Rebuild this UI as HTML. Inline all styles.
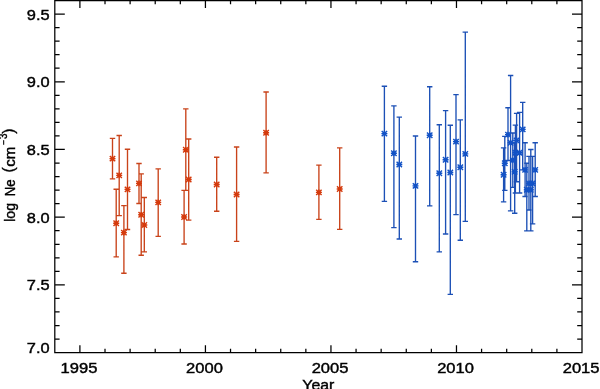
<!DOCTYPE html>
<html><head><meta charset="utf-8"><title>log Ne vs Year</title>
<style>html,body{margin:0;padding:0;background:#fff;overflow:hidden}svg{display:block}text{font-family:"Liberation Sans",sans-serif;font-size:14px;fill:#000;stroke:#000;stroke-width:0.4px}</style></head><body>
<svg width="600" height="389" viewBox="0 0 600 389">
<rect width="600" height="389" fill="#fff"/>
<g fill="none" stroke="#d53a0c"><path stroke="#c9431a" stroke-width="1.35" d="M112.5 138.4V178.8M109.8 138.4H115.2M109.8 178.8H115.2M116.2 189.2V256.8M113.5 189.2H118.9M113.5 256.8H118.9M119.2 135.5V215.6M116.5 135.5H121.9M116.5 215.6H121.9M123.9 205.6V273.2M121.2 205.6H126.6M121.2 273.2H126.6M127.5 149.2V229.5M124.8 149.2H130.2M124.8 229.5H130.2M139 163.5V203.5M136.3 163.5H141.7M136.3 203.5H141.7M141.2 173.8V255.2M138.5 173.8H143.9M138.5 255.2H143.9M144.3 197.5V251.8M141.6 197.5H147M141.6 251.8H147M158.2 168.8V236.3M155.5 168.8H160.9M155.5 236.3H160.9M184.1 190.4V244M181.4 190.4H186.8M181.4 244H186.8M185.8 108.9V190.4M183.1 108.9H188.5M183.1 190.4H188.5M188.7 139V220.1M186 139H191.4M186 220.1H191.4M216.7 157.2V211.2M214 157.2H219.4M214 211.2H219.4M236.6 147V241.3M233.9 147H239.3M233.9 241.3H239.3M266.1 92V172.9M263.4 92H268.8M263.4 172.9H268.8M318.9 165.1V219.3M316.2 165.1H321.6M316.2 219.3H321.6M339.7 147.9V229.3M337 147.9H342.4M337 229.3H342.4"/><path stroke-width="1.4" d="M109.5 158.6H115.5M112.5 155.8V161.4M109.8 155.9L115.2 161.3M109.8 161.3L115.2 155.9M113.2 223.3H119.2M116.2 220.5V226.1M113.5 220.6L118.9 226M113.5 226L118.9 220.6M116.2 175.4H122.2M119.2 172.6V178.2M116.5 172.7L121.9 178.1M116.5 178.1L121.9 172.7M120.9 232.6H126.9M123.9 229.8V235.4M121.2 229.9L126.6 235.3M121.2 235.3L126.6 229.9M124.5 189.4H130.5M127.5 186.6V192.2M124.8 186.7L130.2 192.1M124.8 192.1L130.2 186.7M136 183.4H142M139 180.6V186.2M136.3 180.7L141.7 186.1M136.3 186.1L141.7 180.7M138.2 214.8H144.2M141.2 212V217.6M138.5 212.1L143.9 217.5M138.5 217.5L143.9 212.1M141.3 225H147.3M144.3 222.2V227.8M141.6 222.3L147 227.7M141.6 227.7L147 222.3M155.2 202.4H161.2M158.2 199.6V205.2M155.5 199.7L160.9 205.1M155.5 205.1L160.9 199.7M181.1 217H187.1M184.1 214.2V219.8M181.4 214.3L186.8 219.7M181.4 219.7L186.8 214.3M182.8 149.8H188.8M185.8 147V152.6M183.1 147.1L188.5 152.5M183.1 152.5L188.5 147.1M185.7 179.5H191.7M188.7 176.7V182.3M186 176.8L191.4 182.2M186 182.2L191.4 176.8M213.7 184.5H219.7M216.7 181.7V187.3M214 181.8L219.4 187.2M214 187.2L219.4 181.8M233.6 194.5H239.6M236.6 191.7V197.3M233.9 191.8L239.3 197.2M233.9 197.2L239.3 191.8M263.1 132.7H269.1M266.1 129.9V135.5M263.4 130L268.8 135.4M263.4 135.4L268.8 130M315.9 192.4H321.9M318.9 189.6V195.2M316.2 189.7L321.6 195.1M316.2 195.1L321.6 189.7M336.7 189H342.7M339.7 186.2V191.8M337 186.3L342.4 191.7M337 191.7L342.4 186.3"/></g>
<g fill="none" stroke="#1252c6"><path stroke="#1c50b6" stroke-width="1.35" d="M384.4 86.2V201.3M381.7 86.2H387.1M381.7 201.3H387.1M393.9 105.9V227.6M391.2 105.9H396.6M391.2 227.6H396.6M399.3 117.1V239M396.6 117.1H402M396.6 239H402M415.5 136V261.7M412.8 136H418.2M412.8 261.7H418.2M429.7 86.7V205.9M427 86.7H432.4M427 205.9H432.4M439.3 124.7V251.9M436.6 124.7H442M436.6 251.9H442M445.6 110.6V234M442.9 110.6H448.3M442.9 234H448.3M450.3 125.2V294.3M447.6 125.2H453M447.6 294.3H453M456 94.6V214.6M453.3 94.6H458.7M453.3 214.6H458.7M460.3 119.8V240.2M457.6 119.8H463M457.6 240.2H463M465.3 32.1V221.3M462.6 32.1H468M462.6 221.3H468M503.6 147.8V201.8M500.9 147.8H506.3M500.9 201.8H506.3M504.8 136.3V190.3M502.1 136.3H507.5M502.1 190.3H507.5M508 107.7V160.5M505.3 107.7H510.7M505.3 160.5H510.7M510.6 75.5V210.8M507.9 75.5H513.3M507.9 210.8H513.3M512.8 133V187.3M510.1 133H515.5M510.1 187.3H515.5M514.7 143V213.2M512 143H517.4M512 213.2H517.4M515.4 125.1V193M512.7 125.1H518.1M512.7 193H518.1M516.6 113.4V181.7M513.9 113.4H519.3M513.9 181.7H519.3M519.6 112.3V193M516.9 112.3H522.3M516.9 193H522.3M522.7 102.4V169.9M520 102.4H525.4M520 169.9H525.4M525.1 142.7V196.5M522.4 142.7H527.8M522.4 196.5H527.8M526.8 163.2V230.9M524.1 163.2H529.5M524.1 230.9H529.5M529 156.4V210M526.3 156.4H531.7M526.3 210H531.7M530.8 149.5V230.9M528.1 149.5H533.5M528.1 230.9H533.5M532.6 156.4V223.9M529.9 156.4H535.3M529.9 223.9H535.3M535.2 142.7V196.5M532.5 142.7H537.9M532.5 196.5H537.9"/><path stroke-width="1.4" d="M381.4 133.6H387.4M384.4 130.8V136.4M381.7 130.9L387.1 136.3M381.7 136.3L387.1 130.9M390.9 153.3H396.9M393.9 150.5V156.1M391.2 150.6L396.6 156M391.2 156L396.6 150.6M396.3 164.5H402.3M399.3 161.7V167.3M396.6 161.8L402 167.2M396.6 167.2L402 161.8M412.5 185.9H418.5M415.5 183.1V188.7M412.8 183.2L418.2 188.6M412.8 188.6L418.2 183.2M426.7 135.2H432.7M429.7 132.4V138M427 132.5L432.4 137.9M427 137.9L432.4 132.5M436.3 173.3H442.3M439.3 170.5V176.1M436.6 170.6L442 176M436.6 176L442 170.6M442.6 159.8H448.6M445.6 157V162.6M442.9 157.1L448.3 162.5M442.9 162.5L448.3 157.1M447.3 172.5H453.3M450.3 169.7V175.3M447.6 169.8L453 175.2M447.6 175.2L453 169.8M453 141.6H459M456 138.8V144.4M453.3 138.9L458.7 144.3M453.3 144.3L458.7 138.9M457.3 167.3H463.3M460.3 164.5V170.1M457.6 164.6L463 170M457.6 170L463 164.6M462.3 153.9H468.3M465.3 151.1V156.7M462.6 151.2L468 156.6M462.6 156.6L468 151.2M500.6 174.8H506.6M503.6 172V177.6M500.9 172.1L506.3 177.5M500.9 177.5L506.3 172.1M501.8 163.2H507.8M504.8 160.4V166M502.1 160.5L507.5 165.9M502.1 165.9L507.5 160.5M505 134.6H511M508 131.8V137.4M505.3 131.9L510.7 137.3M505.3 137.3L510.7 131.9M507.6 142.8H513.6M510.6 140V145.6M507.9 140.1L513.3 145.5M507.9 145.5L513.3 140.1M509.8 160.2H515.8M512.8 157.4V163M510.1 157.5L515.5 162.9M510.1 162.9L515.5 157.5M511.7 171.7H517.7M514.7 168.9V174.5M512 169L517.4 174.4M512 174.4L517.4 169M512.4 152.7H518.4M515.4 149.9V155.5M512.7 150L518.1 155.4M512.7 155.4L518.1 150M513.6 140.4H519.6M516.6 137.6V143.2M513.9 137.7L519.3 143.1M513.9 143.1L519.3 137.7M516.6 152.8H522.6M519.6 150V155.6M516.9 150.1L522.3 155.5M516.9 155.5L522.3 150.1M519.7 129.4H525.7M522.7 126.6V132.2M520 126.7L525.4 132.1M520 132.1L525.4 126.7M522.1 169.9H528.1M525.1 167.1V172.7M522.4 167.2L527.8 172.6M522.4 172.6L527.8 167.2M523.8 189.8H529.8M526.8 187V192.6M524.1 187.1L529.5 192.5M524.1 192.5L529.5 187.1M526 183.4H532M529 180.6V186.2M526.3 180.7L531.7 186.1M526.3 186.1L531.7 180.7M527.8 189.8H533.8M530.8 187V192.6M528.1 187.1L533.5 192.5M528.1 192.5L533.5 187.1M529.6 183.4H535.6M532.6 180.6V186.2M529.9 180.7L535.3 186.1M529.9 186.1L535.3 180.7M532.2 169.9H538.2M535.2 167.1V172.7M532.5 167.2L537.9 172.6M532.5 172.6L537.9 167.2"/></g>
<path fill="none" stroke="#000" stroke-width="1.25" stroke-linecap="butt" stroke-linejoin="miter" d="M54.8 0.5H582.0V352.6H54.8ZM79.9 352.6v-7.4M79.9 0.5v7.4M105.01 352.6v-3.8M105.01 0.5v3.8M130.11 352.6v-3.8M130.11 0.5v3.8M155.22 352.6v-3.8M155.22 0.5v3.8M180.32 352.6v-3.8M180.32 0.5v3.8M205.43 352.6v-7.4M205.43 0.5v7.4M230.53 352.6v-3.8M230.53 0.5v3.8M255.64 352.6v-3.8M255.64 0.5v3.8M280.74 352.6v-3.8M280.74 0.5v3.8M305.85 352.6v-3.8M305.85 0.5v3.8M330.95 352.6v-7.4M330.95 0.5v7.4M356.06 352.6v-3.8M356.06 0.5v3.8M381.16 352.6v-3.8M381.16 0.5v3.8M406.27 352.6v-3.8M406.27 0.5v3.8M431.37 352.6v-3.8M431.37 0.5v3.8M456.48 352.6v-7.4M456.48 0.5v7.4M481.58 352.6v-3.8M481.58 0.5v3.8M506.69 352.6v-3.8M506.69 0.5v3.8M531.79 352.6v-3.8M531.79 0.5v3.8M556.9 352.6v-3.8M556.9 0.5v3.8M54.8 339.06h4.8M582.0 339.06h-4.8M54.8 325.52h4.8M582.0 325.52h-4.8M54.8 311.97h4.8M582.0 311.97h-4.8M54.8 298.43h4.8M582.0 298.43h-4.8M54.8 284.89h10.0M582.0 284.89h-10.0M54.8 271.35h4.8M582.0 271.35h-4.8M54.8 257.8h4.8M582.0 257.8h-4.8M54.8 244.26h4.8M582.0 244.26h-4.8M54.8 230.72h4.8M582.0 230.72h-4.8M54.8 217.18h10.0M582.0 217.18h-10.0M54.8 203.63h4.8M582.0 203.63h-4.8M54.8 190.09h4.8M582.0 190.09h-4.8M54.8 176.55h4.8M582.0 176.55h-4.8M54.8 163.01h4.8M582.0 163.01h-4.8M54.8 149.47h10.0M582.0 149.47h-10.0M54.8 135.92h4.8M582.0 135.92h-4.8M54.8 122.38h4.8M582.0 122.38h-4.8M54.8 108.84h4.8M582.0 108.84h-4.8M54.8 95.3h4.8M582.0 95.3h-4.8M54.8 81.75h10.0M582.0 81.75h-10.0M54.8 68.21h4.8M582.0 68.21h-4.8M54.8 54.67h4.8M582.0 54.67h-4.8M54.8 41.13h4.8M582.0 41.13h-4.8M54.8 27.58h4.8M582.0 27.58h-4.8M54.8 14.04h10.0M582.0 14.04h-10.0"/>
<text x="79" y="372.6" text-anchor="middle" textLength="36.8" lengthAdjust="spacingAndGlyphs">1995</text>
<text x="204.53" y="372.6" text-anchor="middle" textLength="36.8" lengthAdjust="spacingAndGlyphs">2000</text>
<text x="330.05" y="372.6" text-anchor="middle" textLength="36.8" lengthAdjust="spacingAndGlyphs">2005</text>
<text x="455.58" y="372.6" text-anchor="middle" textLength="36.8" lengthAdjust="spacingAndGlyphs">2010</text>
<text x="581.1" y="372.6" text-anchor="middle" textLength="36.8" lengthAdjust="spacingAndGlyphs">2015</text>
<text x="49.6" y="353.2" text-anchor="end" textLength="22.8" lengthAdjust="spacingAndGlyphs">7.0</text>
<text x="49.6" y="290.49" text-anchor="end" textLength="22.8" lengthAdjust="spacingAndGlyphs">7.5</text>
<text x="49.6" y="222.78" text-anchor="end" textLength="22.8" lengthAdjust="spacingAndGlyphs">8.0</text>
<text x="49.6" y="155.07" text-anchor="end" textLength="22.8" lengthAdjust="spacingAndGlyphs">8.5</text>
<text x="49.6" y="87.35" text-anchor="end" textLength="22.8" lengthAdjust="spacingAndGlyphs">9.0</text>
<text x="49.6" y="19.64" text-anchor="end" textLength="22.8" lengthAdjust="spacingAndGlyphs">9.5</text>
<text x="318.3" y="389.6" text-anchor="middle" textLength="32" lengthAdjust="spacingAndGlyphs">Year</text>
<text transform="translate(14.5 221.75) rotate(-90) scale(1.0 1)" style="font-size:14px">log</text>
<text transform="translate(14.5 196.3) rotate(-90) scale(0.94 1)" style="font-size:14px">Ne</text>
<text transform="translate(14.3 172.55) rotate(-90) scale(1.0 1)" style="font-size:15.7px">(</text>
<text transform="translate(14.5 166.8) rotate(-90) scale(1.08 1)" style="font-size:14px">cm</text>
<text transform="translate(7.4 144.9) rotate(-90) scale(0.88 1)" style="font-size:9.5px">−</text>
<text transform="translate(7.1 138.9) rotate(-90) scale(0.89 1)" style="font-size:11px">3</text>
<text transform="translate(14.3 133.75) rotate(-90) scale(1.0 1)" style="font-size:15.7px">)</text>
</svg></body></html>
